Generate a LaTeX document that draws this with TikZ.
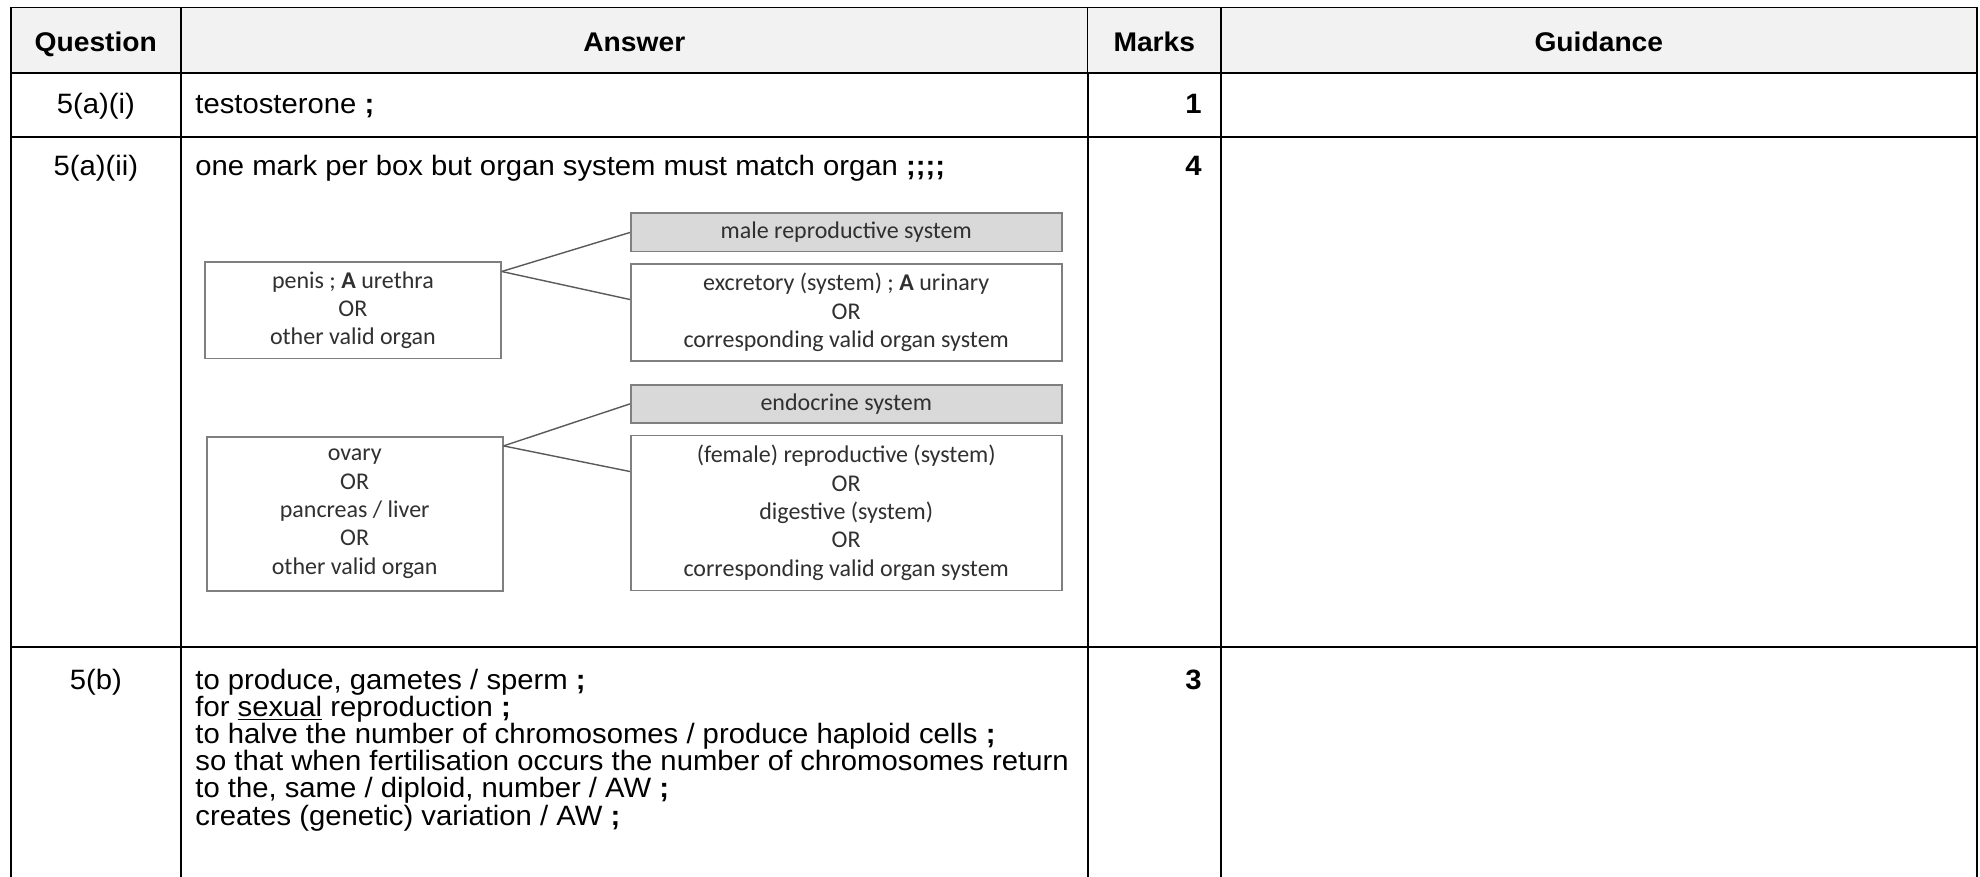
\documentclass[tikz,border=0pt]{standalone}
\usepackage{fontspec}
\setmainfont{Liberation Sans}[FakeStretch=1.045]
\newfontfamily\organfont{Carlito}
\usetikzlibrary{positioning, calc}

\definecolor{headfill}{HTML}{F2F2F2}
\definecolor{systemfill}{HTML}{D9D9D9}
\definecolor{boxline}{HTML}{7F7F7F}
\definecolor{boxtext}{HTML}{303030}

\tikzstyle{heading} = [anchor=base, inner sep=0pt, font=\fontsize{13.5}{13}\selectfont\bfseries]
\tikzstyle{qlabel} = [anchor=base, inner sep=0pt, font=\fontsize{14}{13.6}\selectfont]
\tikzstyle{entry} = [anchor=base west, inner sep=0pt, align=left, font=\fontsize{14}{13.6}\selectfont]
\tikzstyle{markcell} = [anchor=base east, inner sep=0pt, font=\fontsize{14}{13.6}\selectfont\bfseries]
\tikzstyle{organ} = [rectangle, draw=boxline, line width=0.8pt, fill=white, inner sep=0pt, minimum width=148pt, text=boxtext, align=center, font=\organfont\fontsize{12}{14.15}\selectfont]
\tikzstyle{system} = [organ, minimum width=215.5pt]
\tikzstyle{sysname} = [system, fill=systemfill, minimum height=19.2pt]
\tikzstyle{link} = [draw=boxline!70!black, line width=0.7pt]
\tikzstyle{thickrule} = [line width=1pt]
\tikzstyle{thinrule} = [line width=0.6pt]

\begin{document}
\begin{tikzpicture}[x=0.5pt, y=-0.5pt]
    \useasboundingbox (0,0) rectangle (1980,877);

    % Table grid
    \fill [headfill] (10.5,7.3) rectangle (1976.7,72.7);
    \draw [thinrule] (10.5,7.3) -- (1976.7,7.3);
    \foreach \x in {181,1087.7,1221} {
        \draw [thinrule] (\x,7.3) -- (\x,72.7);
        \draw [thickrule] (\x,72.7) -- (\x,877);
    }
    \foreach \x in {10.5,1976.7}
        \draw [thickrule] (\x,7.3) -- (\x,877);
    \foreach \y in {72.7,137.3,646.7}
        \draw [thickrule] (10.5,\y) -- (1976.7,\y);

    % Headings
    \node (qhead) [heading] at (95.8,51.5) {Question};
    \node (ahead) [heading] at (634.3,51.5) {Answer};
    \node (mhead) [heading] at (1154.3,51.5) {Marks};
    \node (ghead) [heading] at (1598.8,51.5) {Guidance};

    % Row 5(a)(i)
    \node (qai) [qlabel] at (95.8,114) {5(a)(i)};
    \node (aai) [entry] at (195,114) {testosterone \textbf{;}};
    \node (mai) [markcell] at (1202,114) {1};

    % Row 5(a)(ii)
    \node (qaii) [qlabel] at (95.8,176) {5(a)(ii)};
    \node (aaii) [entry] at (195,176) {one mark per box but organ system must match organ \textbf{;;;;}};
    \node (maii) [markcell] at (1202,176) {4};

    % Organ boxes
    \node (penis) [organ, minimum height=48pt] at (352.9,310.3) {penis ; \textbf{A} urethra\\OR\\other valid organ};
    \node (ovary) [organ, minimum height=77pt] at (354.7,513.7) {ovary\\OR\\pancreas / liver\\OR\\other valid organ};

    % Organ system boxes
    \node (male) [sysname] at (846.2,232.5) {male reproductive system};
    \node (excretory) [system, minimum height=48.2pt, below=5.5pt of male] {excretory (system) ; \textbf{A} urinary\\OR\\corresponding valid organ system};
    \node (endocrine) [sysname] at (846.2,403.9) {endocrine system};
    \node (female) [system, minimum height=77.5pt, below=5.3pt of endocrine] {(female) reproductive (system)\\OR\\digestive (system)\\OR\\corresponding valid organ system};

    % Links
    \coordinate (penisout) at ($(penis.north east)+(0,10)$);
    \coordinate (ovaryout) at ($(ovary.north east)+(0,10)$);
    \draw [link] (penisout) -- (male.west);
    \draw [link] (penisout) -- ($(excretory.north west)+(0,36)$);
    \draw [link] (ovaryout) -- (endocrine.west);
    \draw [link] (ovaryout) -- ($(female.north west)+(0,37)$);

    % Row 5(b)
    \node (qb) [qlabel] at (95.8,689) {5(b)};
    \node (ab) [entry, anchor=north west] at (195,668.5) {to produce, gametes / sperm \textbf{;}\\
        for \underline{sexual} reproduction \textbf{;}\\
        to halve the number of chromosomes / produce haploid cells \textbf{;}\\
        so that when fertilisation occurs the number of chromosomes return\\
        to the, same / diploid, number / AW \textbf{;}\\
        creates (genetic) variation / AW \textbf{;}};
    \node (mb) [markcell] at (1202,689) {3};

\end{tikzpicture}
\end{document}
